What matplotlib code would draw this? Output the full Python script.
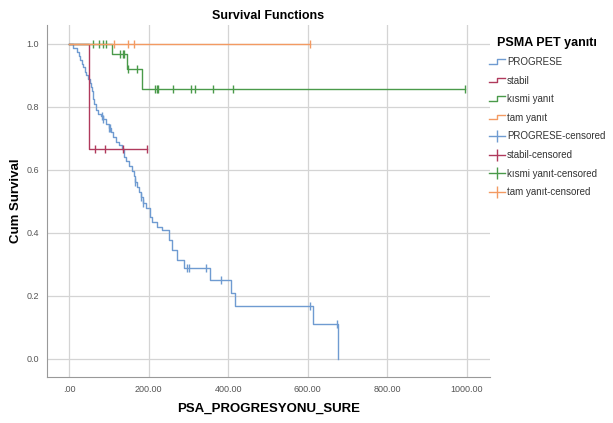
import numpy as np
import matplotlib.pyplot as plt
from matplotlib.legend_handler import HandlerBase
from matplotlib.lines import Line2D
from matplotlib.ticker import FuncFormatter

plt.rcParams['font.family'] = ['Liberation Sans', 'DejaVu Sans']

# Kaplan-Meier step data (time, survival after the step)
progrese_t = [0, 10, 20, 24, 28, 33, 36, 40, 43, 48, 53, 55, 58, 60, 63, 68, 73, 80, 85,
              93, 100, 106, 110, 118, 126, 133, 138, 143, 151, 158, 163, 166, 171, 176,
              181, 186, 193, 203, 208, 221, 234, 251, 259, 271, 289, 354, 407, 417, 613, 676]
progrese_s = [1.0, 0.987, 0.975, 0.962, 0.95, 0.937, 0.925, 0.91, 0.90, 0.887, 0.875, 0.862,
              0.85, 0.825, 0.81, 0.79, 0.778, 0.77, 0.76, 0.745, 0.733, 0.72, 0.705, 0.69,
              0.678, 0.665, 0.64, 0.627, 0.612, 0.597, 0.58, 0.56, 0.546, 0.53, 0.514, 0.495,
              0.48, 0.45, 0.435, 0.42, 0.41, 0.378, 0.346, 0.314, 0.289, 0.25, 0.21, 0.168,
              0.11, 0.0]
progrese_cens = [82, 85, 100, 104, 166, 182, 186, 296, 301, 344, 382, 605, 673]

stabil_t = [0, 50, 196]
stabil_s = [1.0, 0.667, 0.667]
stabil_cens = [65, 90, 136, 196]

kismi_t = [0, 108, 145, 183, 995]
kismi_s = [1.0, 0.968, 0.92, 0.856, 0.856]
kismi_cens = [60, 76, 86, 93, 128, 136, 139, 148, 171, 216, 221, 224, 261, 306, 317, 362, 412, 995]

tam_t = [0, 605]
tam_s = [1.0, 1.0]
tam_cens = [112, 148, 163, 605]

groups = ['PROGRESE', 'stabil', 'kısmi yanıt', 'tam yanıt']
colors = ['#6f9bd1', '#b03a5c', '#4a9a4a', '#f39a62']
times = [progrese_t, stabil_t, kismi_t, tam_t]
survs = [progrese_s, stabil_s, kismi_s, tam_s]
cens = [progrese_cens, stabil_cens, kismi_cens, tam_cens]


def surv_at(t, s, x):
    i = np.searchsorted(t, x, side='right') - 1
    return s[i]


class StepHandler(HandlerBase):
    def create_artists(self, legend, orig, xd, yd, w, h, fs, trans):
        xs = [xd, xd + w * 0.5, xd + w * 0.5, xd + w]
        ys = [yd + h * 0.2, yd + h * 0.2, yd + h * 0.9, yd + h * 0.9]
        ln = Line2D(xs, ys, color=orig.get_color(), lw=1, transform=trans)
        return [ln]


fig = plt.figure(figsize=(6.13, 4.23), dpi=100)
ax = fig.add_axes([0.077, 0.109, 0.722, 0.832])

step_handles = []
cens_handles = []
for g, c, t, s, cc in zip(groups, colors, times, survs, cens):
    ln, = ax.step(t, s, where='post', color=c, lw=1, label=g)
    step_handles.append(ln)
    cy = [surv_at(t, s, x) for x in cc]
    ax.plot(cc, cy, ls='none', marker='|', ms=6, mew=1, color=c)
    h = Line2D([0], [0], color=c, lw=1, marker='|', ms=8, mew=1)
    cens_handles.append(h)

ax.set_xlim(-55, 1058)
ax.set_ylim(-0.057, 1.06)
ax.set_xticks([0, 200, 400, 600, 800, 1000])
ax.set_yticks([0.0, 0.2, 0.4, 0.6, 0.8, 1.0])
ax.xaxis.set_major_formatter(FuncFormatter(lambda v, p: '.00' if v == 0 else '%.2f' % v))
ax.yaxis.set_major_formatter(FuncFormatter(lambda v, p: '%.1f' % v))
ax.tick_params(labelsize=6.5, colors='#555555', length=0, pad=6)
ax.grid(True, color='#d4d4d4', lw=0.9)
ax.set_axisbelow(True)
for sp in ['top', 'right']:
    ax.spines[sp].set_visible(False)
for sp in ['left', 'bottom']:
    ax.spines[sp].set_color('#999999')

ax.set_xlabel('PSA_PROGRESYONU_SURE', fontsize=9.5, fontweight='bold', labelpad=6)
ax.set_ylabel('Cum Survival', fontsize=9.5, fontweight='bold', labelpad=3)
ax.set_title('Survival Functions', fontsize=9, fontweight='bold', pad=4)

labels = groups + [g + '-censored' for g in groups]
hmap = {h: StepHandler() for h in step_handles}
leg = fig.legend(step_handles + cens_handles, labels, handler_map=hmap,
                 loc='upper left', bbox_to_anchor=(0.795, 0.918), frameon=False,
                 fontsize=7, title='PSMA PET yanıtı', handlelength=1.6,
                 handletextpad=0.2, labelspacing=0.88, borderpad=0.2,
                 borderaxespad=0, alignment='center')
leg.get_title().set_fontweight('bold')
leg.get_title().set_fontsize(9)
for txt in leg.get_texts():
    txt.set_color('#333333')

fig.savefig('out.png', dpi=100)
